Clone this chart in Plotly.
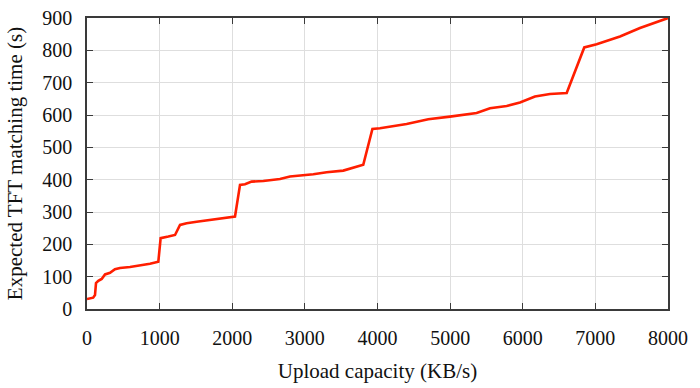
import plotly.graph_objects as go

upload_kbps = [0, 85, 110, 124, 156, 202, 248, 317, 385, 454, 592, 730, 867, 982,
               1014, 1120, 1212, 1281, 1372, 1510, 1739, 1923, 2038, 2107, 2175,
               2267, 2428, 2657, 2795, 3116, 3300, 3529, 3690, 3804, 3930, 4034,
               4401, 4699, 4998, 5365, 5549, 5779, 5962, 6168, 6375, 6605, 6847,
               7017, 7339, 7614, 8000]
match_time_s = [31, 35, 43, 80, 87, 93, 107, 112, 123, 127, 130, 134, 140, 146,
                219, 224, 229, 260, 265, 270, 276, 283, 286, 384, 386, 394, 396,
                402, 410, 417, 423, 428, 439, 446, 557, 559, 572, 587, 595, 606,
                621, 628, 639, 657, 665, 668, 809, 819, 843, 869, 900]

x_ticks = [0, 1000, 2000, 3000, 4000, 5000, 6000, 7000, 8000]
y_ticks = [0, 100, 200, 300, 400, 500, 600, 700, 800, 900]

fig = go.Figure()
fig.add_trace(go.Scatter(x=upload_kbps, y=match_time_s, mode="lines",
                         line=dict(color="#ff1e00", width=2.6), showlegend=False))

axis_common = dict(showgrid=True, gridcolor="#dedede", gridwidth=1,
                   showline=True, linecolor="#3a3a3a", linewidth=1.5, mirror="ticks",
                   ticks="inside", ticklen=6, tickcolor="#3a3a3a", tickwidth=1.2,
                   zeroline=False, automargin=False,
                   tickfont=dict(family="Liberation Serif", size=20, color="#111"))

fig.update_xaxes(range=[0, 8000], tickvals=x_ticks,
                 title=dict(text="Upload capacity (KB/s)",
                            font=dict(family="Liberation Serif", size=21, color="#111"),
                            standoff=16),
                 ticklabelstandoff=10, **axis_common)
fig.update_yaxes(range=[0, 900], tickvals=y_ticks,
                 title=dict(text="Expected TFT matching time (s)",
                            font=dict(family="Liberation Serif", size=21, color="#111"),
                            standoff=14),
                 ticklabelstandoff=9, **axis_common)

fig.update_layout(width=700, height=388, plot_bgcolor="white", paper_bgcolor="white",
                  margin=dict(l=87, r=32, t=18, b=79))

fig.write_html("out.html",
               config={"displayModeBar": False},
               post_script="document.body.style.margin='0px';")
